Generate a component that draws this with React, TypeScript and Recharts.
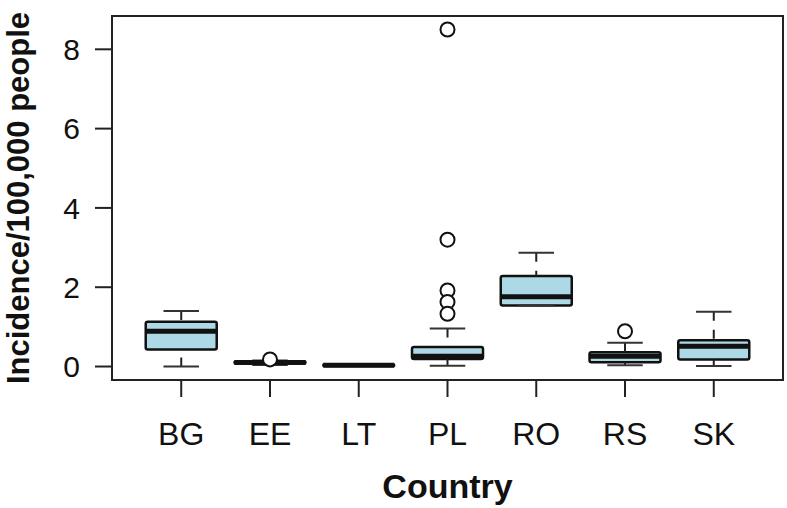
import { ComposedChart, XAxis, YAxis, Scatter, ReferenceArea, ReferenceLine } from 'recharts';

// boxplot stats per country
const countries = ['BG', 'EE', 'LT', 'PL', 'RO', 'RS', 'SK'];
const whiskerLow = [0.0, 0.04, 0.01, 0.02, 1.54, 0.03, 0.01];
const quartile1 = [0.43, 0.07, 0.01, 0.19, 1.54, 0.11, 0.18];
const medians = [0.89, 0.1, 0.03, 0.26, 1.76, 0.26, 0.51];
const quartile3 = [1.13, 0.13, 0.05, 0.49, 2.28, 0.36, 0.66];
const whiskerHigh = [1.4, 0.15, 0.06, 0.96, 2.87, 0.6, 1.38];

// outliers: which box (1-based) and value
const outlierBox = [2, 4, 4, 4, 4, 4, 6];
const outlierValue = [0.18, 8.5, 3.2, 1.92, 1.63, 1.33, 0.89];

const yTicks = [0, 2, 4, 6, 8];
const xTicks = countries.map((_, i) => i + 1);

const outliers = outlierValue.map((v, i) => ({ x: outlierBox[i], y: v }));

const FONT = '"Liberation Sans", Arial, Helvetica, sans-serif';
const INK = '#111';
const BOX_FILL = '#ADD8E6';
const HALF_BOX = 0.4;
const HALF_CAP = 0.2;

export default function App() {
  return (
    <div style={{ position: 'absolute', left: 0, top: 0 }}>
      <ComposedChart
        width={787}
        height={508}
        margin={{ top: 16, right: 4, left: 0, bottom: 0 }}
        style={{ fontFamily: FONT, background: '#fff' }}
      >
        <XAxis
          type="number"
          dataKey="x"
          domain={[0.22, 7.78]}
          ticks={xTicks}
          allowDataOverflow
          tickFormatter={(v: number) => countries[v - 1] ?? ''}
          axisLine={false}
          tickLine={{ stroke: '#222', strokeWidth: 2 }}
          tickSize={17}
          tickMargin={25}
          height={128}
          tick={{ fontSize: 32, fill: INK, fontFamily: FONT }}
          label={{
            value: 'Country',
            position: 'insideBottom',
            offset: 10,
            style: { fontSize: 34, fontWeight: 'bold', fill: INK, fontFamily: FONT },
          }}
        />
        <YAxis
          type="number"
          dataKey="y"
          domain={[-0.34, 8.84]}
          ticks={yTicks}
          allowDataOverflow
          axisLine={false}
          tickLine={{ stroke: '#222', strokeWidth: 2 }}
          tickSize={17}
          tickMargin={15}
          width={112}
          tick={{ fontSize: 30, fill: INK, fontFamily: FONT }}
          label={{
            value: 'Incidence/100,000 people',
            angle: -90,
            position: 'insideLeft',
            offset: 18,
            style: { textAnchor: 'middle', fontSize: 31, fontWeight: 'bold', fill: INK, fontFamily: FONT },
          }}
        />

        {/* plot frame */}
        <ReferenceArea x1={0.22} x2={7.78} y1={-0.34} y2={8.84} fill="none" stroke="#222" strokeWidth={2} />

        {/* whiskers (dashed) and staples */}
        {countries.map((c, i) => (
          <ReferenceLine
            key={`wh-${c}`}
            segment={[{ x: i + 1, y: whiskerHigh[i] }, { x: i + 1, y: quartile3[i] }]}
            stroke="#222"
            strokeWidth={2}
            strokeDasharray="9 9"
          />
        ))}
        {countries.map((c, i) => (
          <ReferenceLine
            key={`wl-${c}`}
            segment={[{ x: i + 1, y: whiskerLow[i] }, { x: i + 1, y: quartile1[i] }]}
            stroke="#222"
            strokeWidth={2}
            strokeDasharray="9 9"
          />
        ))}
        {countries.map((c, i) => (
          <ReferenceLine
            key={`ch-${c}`}
            segment={[{ x: i + 1 - HALF_CAP, y: whiskerHigh[i] }, { x: i + 1 + HALF_CAP, y: whiskerHigh[i] }]}
            stroke="#333"
            strokeWidth={2}
          />
        ))}
        {countries.map((c, i) => (
          <ReferenceLine
            key={`cl-${c}`}
            segment={[{ x: i + 1 - HALF_CAP, y: whiskerLow[i] }, { x: i + 1 + HALF_CAP, y: whiskerLow[i] }]}
            stroke="#333"
            strokeWidth={2}
          />
        ))}

        {/* boxes */}
        {countries.map((c, i) => (
          <ReferenceArea
            key={`box-${c}`}
            x1={i + 1 - HALF_BOX}
            x2={i + 1 + HALF_BOX}
            y1={quartile1[i]}
            y2={quartile3[i]}
            fill={BOX_FILL}
            fillOpacity={1}
            stroke={INK}
            strokeWidth={2.5}
            radius={2}
          />
        ))}

        {/* medians */}
        {countries.map((c, i) => (
          <ReferenceLine
            key={`med-${c}`}
            segment={[{ x: i + 1 - HALF_BOX, y: medians[i] }, { x: i + 1 + HALF_BOX, y: medians[i] }]}
            stroke={INK}
            strokeWidth={5}
          />
        ))}

        <Scatter
          data={outliers}
          isAnimationActive={false}
          shape={(p: any) => (
            <circle cx={p.cx} cy={p.cy} r={7} fill="#fff" stroke={INK} strokeWidth={2} />
          )}
        />
      </ComposedChart>
    </div>
  );
}
